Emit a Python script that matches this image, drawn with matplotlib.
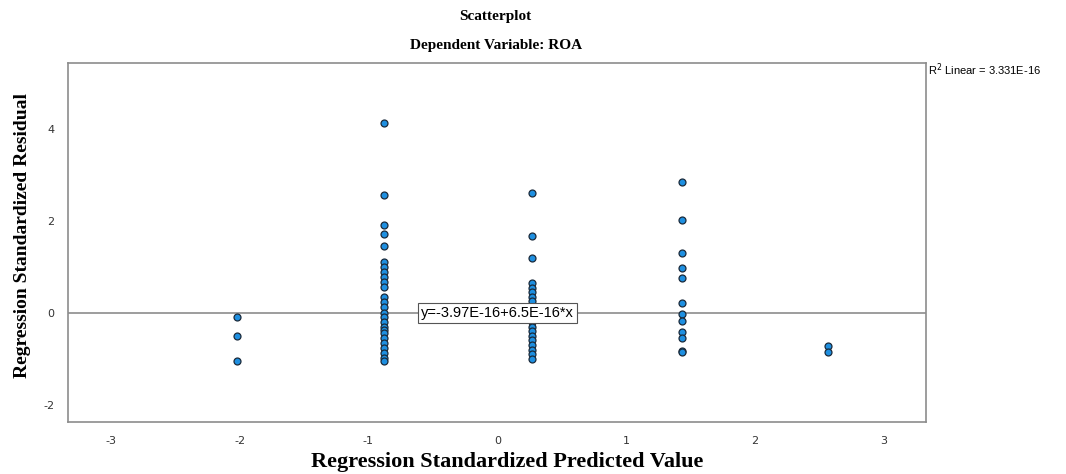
import numpy as np
import matplotlib.pyplot as plt

plt.rcParams['axes.unicode_minus'] = False

# Nilai prediksi terstandar (sumbu x) per kolom titik
x_cols = [-2.02, -0.88, 0.27, 1.43, 2.57]

# Residual terstandar per kolom
res_col1 = [-0.09, -0.50, -1.04]
res_col2 = [4.13, 2.57, 1.91, 1.72, 1.46, 1.11, 1.00, 0.89, 0.78, 0.67, 0.57,
            0.35, 0.24, 0.13, 0.00, -0.09, -0.20, -0.30, -0.37, -0.43, -0.54,
            -0.65, -0.76, -0.87, -0.98, -1.04]
res_col3 = [2.60, 1.68, 1.20, 0.65, 0.55, 0.45, 0.35, 0.25, -0.20, -0.30,
            -0.40, -0.50, -0.60, -0.70, -0.80, -0.90, -1.00]
res_col4 = [2.85, 2.02, 1.30, 0.98, 0.76, 0.22, -0.02, -0.17, -0.41, -0.54,
            -0.83, -0.86]
res_col5 = [-0.72, -0.86]

residuals = [res_col1, res_col2, res_col3, res_col4, res_col5]

x_ticks = [-3, -2, -1, 0, 1, 2, 3]
y_ticks = [-2, 0, 2, 4]

x = np.concatenate([[xc] * len(r) for xc, r in zip(x_cols, residuals)])
y = np.concatenate(residuals)

fig = plt.figure(figsize=(10.66, 4.74), dpi=100)
ax = fig.add_axes([0.064, 0.110, 0.805, 0.757])

# Garis regresi (hampir horizontal di nol)
ax.axhline(0, color='#8c8c8c', lw=1.2, zorder=1)
ax.scatter(x, y, s=25, c='#1e8fe0', edgecolors='#1a2a3a', linewidths=0.9,
           zorder=3)

ax.set_xlim(-3.33, 3.33)
ax.set_ylim(-2.37, 5.43)
ax.set_xticks(x_ticks)
ax.set_yticks(y_ticks)
ax.tick_params(length=0, labelsize=8, labelcolor='#333333', pad=10)
for s in ax.spines.values():
    s.set_color('#8c8c8c')
    s.set_linewidth(1.2)

ax.text(0.0, 0.0, 'y=-3.97E-16+6.5E-16*x', fontsize=10.5, ha='center',
        va='center', family='Liberation Sans', zorder=4,
        bbox=dict(facecolor='white', edgecolor='#555555', lw=0.8,
                  boxstyle='square,pad=0.2'))

fig.text(0.871, 0.843, r'R$^2$ Linear = 3.331E-16', fontsize=8,
         family='Liberation Sans')

fig.text(0.465, 0.965, 'Scatterplot', fontsize=11, fontweight='bold',
         family='Liberation Serif', ha='center', va='center')
fig.text(0.465, 0.905, 'Dependent Variable: ROA', fontsize=11,
         fontweight='bold', family='Liberation Serif', ha='center',
         va='center')
fig.text(0.476, 0.026, 'Regression Standardized Predicted Value', fontsize=16,
         fontweight='bold', family='Liberation Serif', ha='center',
         va='center')
fig.text(0.021, 0.504, 'Regression Standardized Residual', fontsize=14,
         fontweight='bold', family='Liberation Serif', ha='center',
         va='center', rotation=90)

fig.savefig('out.png', dpi=100)
